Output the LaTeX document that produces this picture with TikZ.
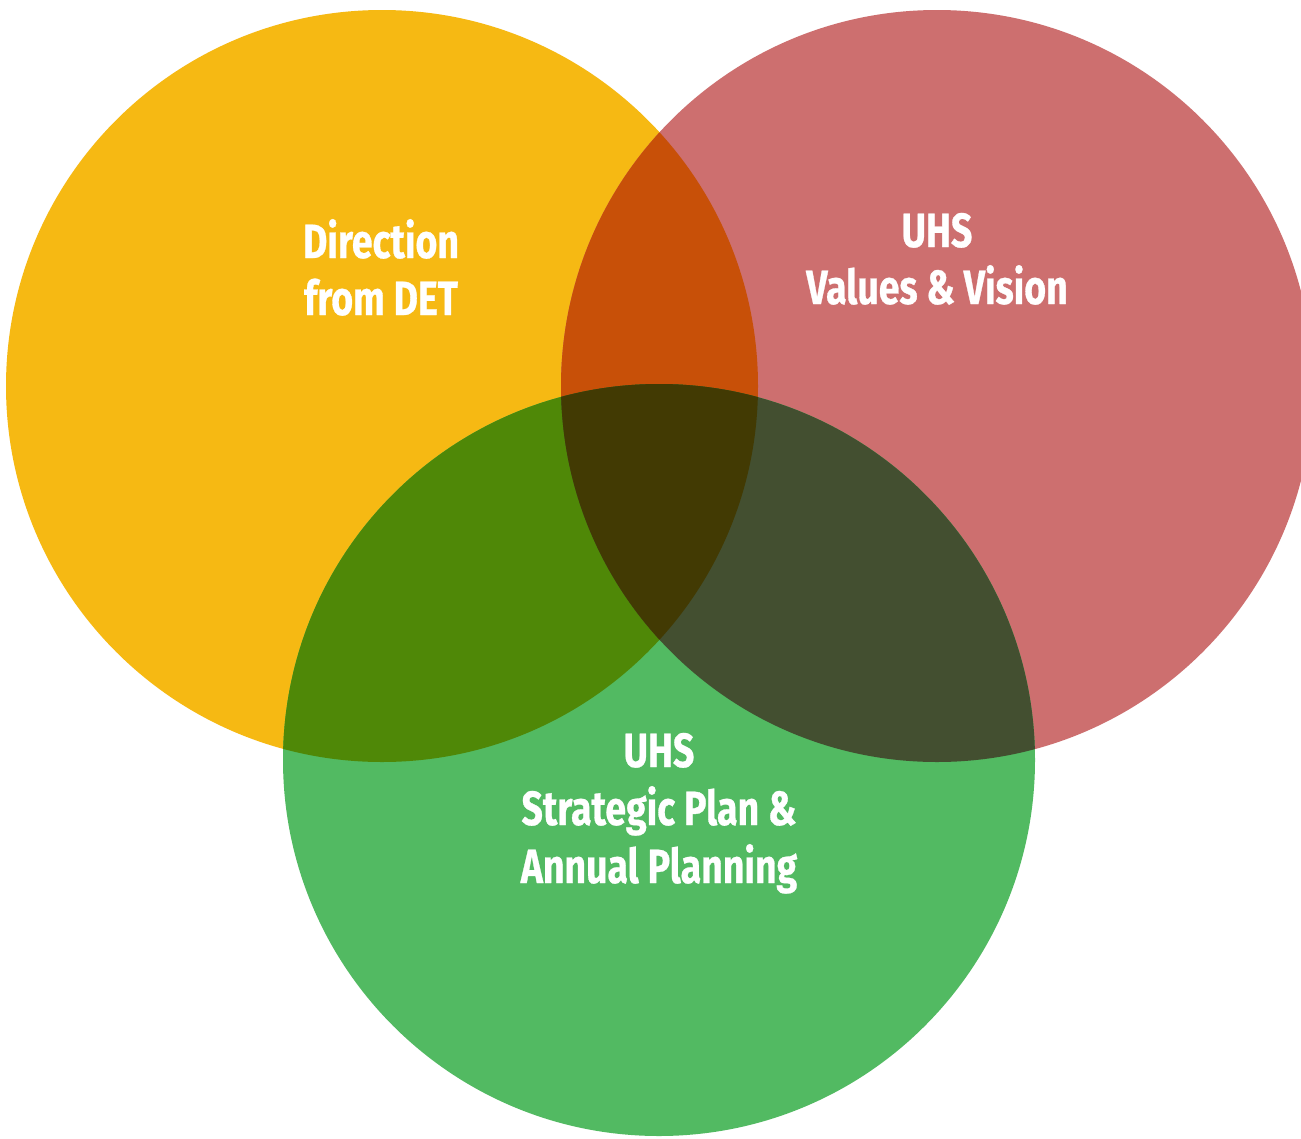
\documentclass[tikz,border=0pt]{standalone}
\usepackage{fontspec}
\newfontfamily\lblfont[FakeStretch=0.78,BoldFeatures={FakeBold=0.6}]{Fira Sans}
\definecolor{cY}{HTML}{F6B913}
\definecolor{cR}{HTML}{CD6F6F}
\definecolor{cG}{HTML}{52BA62}
\definecolor{cYR}{HTML}{C85008}
\definecolor{cYG}{HTML}{4F8807}
\definecolor{cRG}{HTML}{434F30}
\definecolor{cYRG}{HTML}{423A03}
\tikzset{
  lbl/.style={text=white, font=\lblfont\bfseries\fontsize{48}{58}\selectfont, anchor=base, inner sep=0pt}
}
\def\cY{(382,386) circle[radius=376]}
\def\cR{(937,386) circle[radius=376]}
\def\cG{(659,760) circle[radius=376]}
\begin{document}
\begin{tikzpicture}[x=1pt,y=-1pt]
\useasboundingbox (0,0) rectangle (1301,1138);
\fill[white] (0,0) rectangle (1301,1138);
\begin{scope}
\clip (0,0) rectangle (1301,1138);
\fill[cY] \cY;
\fill[cR] \cR;
\fill[cG] \cG;
\begin{scope}\clip \cY; \fill[cYR] \cR; \end{scope}
\begin{scope}\clip \cY; \fill[cYG] \cG; \end{scope}
\begin{scope}\clip \cR; \fill[cRG] \cG; \end{scope}
\begin{scope}\clip \cY; \clip \cR; \fill[cYRG] \cG; \end{scope}
\end{scope}
\node[lbl] (y1) at (381,258) {Direction};
\node[lbl] (y2) at (381,315) {from DET};
\node[lbl] (r1) at (937,247) {UHS};
\node[lbl] (r2) at (937,304) {Values \& Vision};
\node[lbl] (g1) at (659,767) {UHS};
\node[lbl] (g2) at (659,825) {Strategic Plan \&};
\node[lbl] (g3) at (659,883) {Annual Planning};
\end{tikzpicture}
\end{document}
